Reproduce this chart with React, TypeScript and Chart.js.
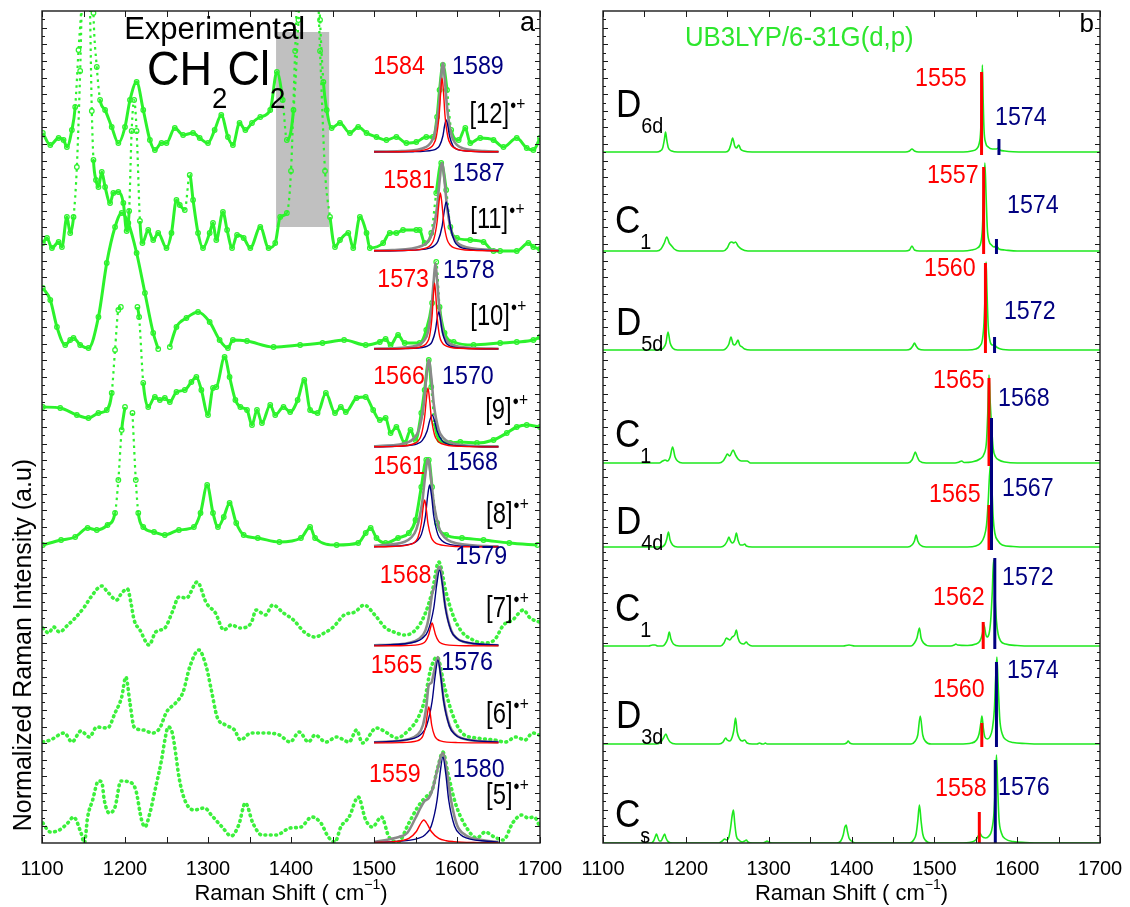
import React, { useEffect, useRef } from 'react';
import { Chart, registerables } from 'chart.js';

Chart.register(...registerables);

const FONT = '"Liberation Sans", Arial, Helvetica, sans-serif';
const RED = '#ff0000';
const NAVY = '#000080';
const EXP_GREEN = '#2cf22c';
const CALC_GREEN = '#1ee81e';
const GRAY = '#8a8a8a';

const X_MIN = 1100;
const X_MAX = 1700;
const Y_MAX = 832;
const X_TICKS = [1100, 1150, 1200, 1250, 1300, 1350, 1400, 1450, 1500, 1550, 1600, 1650, 1700];

type P = [number, number | null];

// ---------------- Panel a : experimental spectra (height above own baseline) ----------------
const EXP_12: P[] = [[1101,19],[1110,7],[1120,14],[1126,12],[1130,5],[1136,22],[1140,45],[1144,102],[1148,160],[1152,300],[1158,300],[1162,139],[1166,85],[1170,52],[1176,42],[1184,25],[1192,9],[1200,25],[1206,52],[1214,70],[1222,42],[1230,12],[1236,2],[1244,9],[1250,9],[1260,24],[1270,17],[1282,19],[1290,14],[1300,9],[1308,22],[1316,37],[1324,15],[1330,7],[1338,29],[1345,22],[1353,29],[1363,35],[1375,42],[1383,80],[1390,52],[1395,12],[1403,42],[1409,132],[1416,300],[1428,300],[1435,132],[1439,70],[1443,42],[1449,24],[1459,29],[1471,19],[1481,25],[1491,19],[1503,15],[1515,12],[1527,15],[1539,9],[1551,10],[1563,15],[1571,15],[1576,35],[1579,62],[1583,87],[1588,62],[1593,22],[1602,12],[1610,24],[1616,9],[1628,14],[1644,12],[1656,5],[1672,14],[1684,4],[1692,2],[1700,14]];
const EXP_11: P[] = [[1101,8],[1106,13],[1112,3],[1120,9],[1124,4],[1130,34],[1134,18],[1138,34],[1142,84],[1146,180],[1150,300],[1156,300],[1160,140],[1162,91],[1165,71],[1168,64],[1172,79],[1176,64],[1182,48],[1186,58],[1192,59],[1198,48],[1202,20],[1205,40],[1208,120],[1211,151],[1214,120],[1218,30],[1221,8],[1228,21],[1234,11],[1240,18],[1250,3],[1256,18],[1262,51],[1266,46],[1272,41],[1278,76],[1282,51],[1288,18],[1294,3],[1302,18],[1306,28],[1310,11],[1318,39],[1323,21],[1329,3],[1335,16],[1343,13],[1351,3],[1363,24],[1373,3],[1381,8],[1387,34],[1395,38],[1400,80],[1405,200],[1412,350],[1428,350],[1435,200],[1441,80],[1447,34],[1453,4],[1459,11],[1469,18],[1475,3],[1483,34],[1491,18],[1495,3],[1511,8],[1519,18],[1527,18],[1535,21],[1551,21],[1555,21],[1561,8],[1569,18],[1575,58],[1581,88],[1587,61],[1592,24],[1600,13],[1616,11],[1632,9],[1644,0],[1652,0],[1672,0],[1686,8],[1692,4],[1700,2]];
const EXP_10: P[] = [[1101,61],[1110,49],[1118,22],[1128,4],[1134,9],[1138,11],[1146,4],[1156,1],[1168,32],[1178,86],[1188,122],[1196,136],[1204,126],[1214,96],[1224,56],[1234,16],[1240,0],[1246,null],[1254,2],[1262,22],[1274,31],[1288,37],[1302,27],[1314,9],[1324,1],[1330,9],[1347,8],[1379,2],[1411,4],[1438,6],[1464,9],[1490,4],[1507,7],[1514,10],[1520,4],[1529,14],[1537,6],[1555,6],[1563,19],[1570,46],[1575,87],[1579,42],[1585,16],[1596,7],[1620,4],[1652,6],[1672,7],[1692,9],[1700,12]];
const EXP_9: P[] = [[1101,40],[1122,39],[1142,32],[1156,29],[1168,34],[1178,37],[1184,54],[1188,97],[1192,137],[1195,140],[1205,null],[1215,140],[1217,130],[1222,64],[1228,40],[1236,50],[1242,47],[1248,49],[1254,45],[1262,55],[1272,57],[1280,65],[1286,70],[1292,57],[1300,32],[1306,59],[1310,60],[1320,90],[1326,70],[1333,47],[1339,40],[1347,37],[1353,22],[1359,37],[1365,24],[1375,42],[1381,32],[1391,40],[1399,35],[1408,47],[1416,67],[1423,37],[1432,34],[1442,54],[1453,34],[1460,40],[1466,35],[1479,49],[1490,50],[1499,37],[1507,27],[1514,29],[1520,14],[1527,20],[1537,4],[1544,17],[1550,7],[1557,34],[1561,57],[1566,87],[1569,60],[1573,24],[1579,7],[1592,4],[1604,5],[1624,4],[1644,7],[1660,14],[1672,20],[1684,22],[1700,20]];
const EXP_8: P[] = [[1101,2],[1123,7],[1140,10],[1155,19],[1166,17],[1179,22],[1188,34],[1192,67],[1196,117],[1200,140],[1204,null],[1209,134],[1213,67],[1216,34],[1222,20],[1235,15],[1248,12],[1265,17],[1283,20],[1291,34],[1299,62],[1306,34],[1312,20],[1319,30],[1326,44],[1334,24],[1343,12],[1360,9],[1386,5],[1412,9],[1423,20],[1429,9],[1455,2],[1481,4],[1490,14],[1496,19],[1503,9],[1514,4],[1529,9],[1542,14],[1550,27],[1557,60],[1563,87],[1566,87],[1570,60],[1576,24],[1587,12],[1606,9],[1632,7],[1663,4],[1697,2]];
const EXP_7: P[] = [[1101,18],[1108,13],[1114,19],[1121,14],[1131,21],[1140,28],[1151,39],[1159,49],[1172,60],[1179,54],[1190,46],[1196,53],[1203,57],[1207,44],[1211,26],[1218,16],[1229,1],[1237,14],[1248,18],[1257,34],[1265,49],[1274,48],[1287,64],[1298,43],[1309,33],[1319,16],[1328,21],[1339,18],[1352,23],[1358,36],[1369,31],[1378,41],[1391,33],[1403,26],[1416,14],[1429,9],[1440,13],[1451,19],[1464,31],[1477,34],[1488,41],[1501,31],[1514,18],[1524,14],[1537,11],[1550,16],[1561,31],[1570,54],[1578,84],[1587,53],[1596,29],[1606,14],[1615,8],[1632,3],[1645,6],[1656,21],[1667,26],[1680,36],[1688,28],[1699,24]];
const EXP_6: P[] = [[1101,1],[1110,3],[1127,10],[1136,1],[1147,12],[1157,6],[1166,16],[1179,15],[1188,30],[1196,46],[1201,66],[1206,40],[1211,16],[1222,13],[1233,10],[1242,15],[1250,31],[1261,40],[1270,51],[1278,76],[1289,93],[1298,76],[1304,53],[1311,26],[1321,18],[1332,13],[1339,3],[1352,10],[1369,10],[1386,8],[1399,1],[1410,11],[1421,1],[1429,8],[1442,1],[1455,6],[1470,1],[1479,13],[1486,0],[1503,15],[1516,10],[1527,5],[1542,13],[1553,25],[1561,43],[1568,73],[1576,86],[1585,56],[1594,30],[1606,10],[1624,5],[1645,3],[1658,1],[1671,6],[1682,3],[1691,10],[1699,8]];
const EXP_5: P[] = [[1101,20],[1110,11],[1121,13],[1131,20],[1138,26],[1147,10],[1151,0],[1155,26],[1161,43],[1168,62],[1172,61],[1175,43],[1181,30],[1188,36],[1195,62],[1205,61],[1213,53],[1220,23],[1224,16],[1230,30],[1237,56],[1244,83],[1248,103],[1252,116],[1257,110],[1261,90],[1265,66],[1272,43],[1283,33],[1296,35],[1304,28],[1317,16],[1328,7],[1337,18],[1345,40],[1354,20],[1365,8],[1382,8],[1399,15],[1412,16],[1425,26],[1436,20],[1445,6],[1453,1],[1460,16],[1470,26],[1481,46],[1490,23],[1498,16],[1509,26],[1518,6],[1529,1],[1542,20],[1552,35],[1561,45],[1570,53],[1577,76],[1583,91],[1589,70],[1598,40],[1611,16],[1624,5],[1634,11],[1645,6],[1656,3],[1667,20],[1678,28],[1686,25],[1693,26],[1699,18]];

const EXP_SPECTRA = [EXP_12, EXP_11, EXP_10, EXP_9, EXP_8, EXP_7, EXP_6, EXP_5];
const EXP_OFFSETS = [691, 592, 494, 396, 296, 197, 100, 0];
// spectra recorded with a sparse point density (drawn as separate dots)
const EXP_SPARSE = [false, false, false, false, false, true, true, true];

// fitted components (red, blue) and their envelope (gray)
const FIT_RED_12: P[] = [[1500,0.1],[1547,0.7],[1568,4.4],[1571.5,7.4],[1575,15],[1578.5,37],[1580.3,59],[1582,74],[1583.8,59],[1585.5,37],[1589,15],[1592.5,7.4],[1596,4.4],[1617,0.7],[1650,0.2]];
const FIT_BLUE_12: P[] = [[1500,0.1],[1547,0.3],[1571,1.9],[1575,3.2],[1579,6.4],[1583,16],[1585,26],[1587,32],[1589,26],[1591,16],[1595,6.4],[1599,3.2],[1603,1.9],[1627,0.3],[1650,0.1]];
const FIT_GRAY_12: P[] = [[1500,0.4],[1533,0.9],[1563,5.2],[1568,8.9],[1573,18],[1578,45],[1580.5,71],[1583,89],[1585.5,71],[1588,45],[1593,18],[1598,8.9],[1603,5.2],[1633,0.9],[1650,0.5]];
const FIT_RED_11: P[] = [[1500,0.2],[1540,0.6],[1564,3.4],[1568,5.8],[1572,11.6],[1576,29],[1578,46],[1580,58],[1582,46],[1584,29],[1588,11.6],[1592,5.8],[1596,3.4],[1620,0.6],[1650,0.2]];
const FIT_BLUE_11: P[] = [[1500,0.2],[1537,0.5],[1567,2.9],[1572,4.9],[1577,9.8],[1582,24.5],[1584.5,39],[1587,49],[1589.5,39],[1592,24.5],[1597,9.8],[1602,4.9],[1607,2.9],[1637,0.5],[1650,0.3]];
const FIT_GRAY_11: P[] = [[1500,0.5],[1522,0.9],[1558,5.2],[1564,8.8],[1570,17.6],[1576,44],[1579,70],[1582,88],[1585,70],[1588,44],[1594,17.6],[1600,8.8],[1606,5.2],[1642,0.9],[1650,0.7]];
const FIT_RED_10: P[] = [[1500,0.1],[1543,0.7],[1561,3.9],[1564,6.6],[1567,13],[1570,33],[1571.5,53],[1573,66],[1574.5,53],[1576,33],[1579,13],[1582,6.6],[1585,3.9],[1603,0.7],[1650,0.1]];
const FIT_BLUE_10: P[] = [[1500,0.1],[1538,0.4],[1562,2.2],[1566,3.7],[1570,7.4],[1574,18.5],[1576,30],[1578,37],[1580,30],[1582,18.5],[1586,7.4],[1590,3.7],[1594,2.2],[1618,0.4],[1650,0.1]];
const FIT_GRAY_10: P[] = [[1500,0.3],[1529,0.9],[1556,5],[1560.5,8.6],[1565,17],[1569.5,43],[1572,69],[1574,86],[1576,69],[1578.5,43],[1583,17],[1587.5,8.6],[1592,5],[1619,0.9],[1650,0.3]];
const FIT_RED_9: P[] = [[1500,0.2],[1525,0.6],[1549,3.5],[1553,5.9],[1557,12],[1561,30],[1563,47],[1565,59],[1567,47],[1569,30],[1573,12],[1577,5.9],[1581,3.5],[1605,0.6],[1650,0.1]];
const FIT_BLUE_9: P[] = [[1500,0.2],[1510,0.3],[1546,1.9],[1552,3.2],[1558,6.4],[1564,16],[1567,26],[1570,32],[1573,26],[1576,16],[1582,6.4],[1588,3.2],[1594,1.9],[1630,0.3],[1650,0.2]];
const FIT_GRAY_9: P[] = [[1500,0.7],[1506,0.9],[1542,5.1],[1548,8.7],[1554,17],[1560,43],[1563,70],[1566,87],[1569,70],[1572,43],[1578,17],[1584,8.7],[1590,5.1],[1626,0.9],[1650,0.6]];
const FIT_RED_8: P[] = [[1500,0.2],[1521,0.5],[1545,2.8],[1549,4.7],[1553,9.4],[1557,23.5],[1559,38],[1561,47],[1563,38],[1565,23.5],[1569,9.4],[1573,4.7],[1577,2.8],[1601,0.5],[1650,0.1]];
const FIT_BLUE_8: P[] = [[1500,0.3],[1517,0.6],[1547,3.7],[1552,6.2],[1557,12.4],[1562,31],[1564.5,50],[1567,62],[1569.5,50],[1572,31],[1577,12.4],[1582,6.2],[1587,3.7],[1617,0.6],[1650,0.3]];
const FIT_GRAY_8: P[] = [[1500,1],[1537,5.2],[1544,8.8],[1551,17.6],[1558,44],[1561.5,70],[1565,88],[1568.5,70],[1572,44],[1579,17.6],[1586,8.8],[1593,5.2],[1635,0.9],[1650,0.6]];
const FIT_RED_7: P[] = [[1500,0.1],[1530,0.2],[1554,1.4],[1558,2.3],[1562,4.6],[1566,11.5],[1568,18],[1570,23],[1572,18],[1574,11.5],[1578,4.6],[1582,2.3],[1586,1.4],[1610,0.2],[1650,0.1]];
const FIT_BLUE_7: P[] = [[1500,0.6],[1509,0.8],[1551,4.5],[1558,7.6],[1565,15],[1572,38],[1575.5,61],[1579,76],[1582.5,61],[1586,38],[1593,15],[1600,7.6],[1607,4.5],[1650,0.8]];
const FIT_GRAY_7: P[] = [[1500,0.7],[1520,1.2],[1540,2.8],[1554,7],[1562,15.6],[1566,28.5],[1570,52],[1574,62],[1578,79],[1580,79],[1582,66],[1586,39.4],[1593,15.6],[1600,7.6],[1607,4.5],[1625,1.8],[1650,0.8]];
const FIT_RED_6: P[] = [[1500,0.1],[1531,0.4],[1552,2.1],[1555.5,3.6],[1559,7.2],[1562.5,18],[1564.3,29],[1566,36],[1567.8,29],[1569.5,18],[1573,7.2],[1576.5,3.6],[1580,2.1],[1601,0.4],[1650,0.1]];
const FIT_BLUE_6: P[] = [[1500,0.7],[1549,4.9],[1556,8.3],[1563,16.6],[1570,41.5],[1573.5,66],[1577,83],[1580.5,66],[1584,41.5],[1591,16.6],[1598,8.3],[1605,4.9],[1650,0.8]];
const FIT_GRAY_6: P[] = [[1500,0.8],[1520,1.5],[1540,3.5],[1552,8],[1559,18],[1563,36],[1566,58],[1569,60],[1573,74],[1577,86],[1580.5,68],[1584,43],[1591,17.5],[1598,8.6],[1605,5],[1625,2],[1650,0.9]];
const FIT_RED_5: P[] = [[1500,0.5],[1524,1.4],[1533,2.3],[1542,4.6],[1551,11.5],[1555.5,18.4],[1560,23],[1564.5,18.4],[1569,11.5],[1578,4.6],[1587,2.3],[1596,1.4],[1620,0.5],[1650,0.2]];
const FIT_BLUE_5: P[] = [[1500,0.6],[1513,0.9],[1555,5.1],[1562,8.6],[1569,17],[1576,43],[1579.5,69],[1583,86],[1586.5,69],[1590,43],[1597,17],[1604,8.6],[1611,5.1],[1650,0.9]];
const FIT_GRAY_5: P[] = [[1500,1],[1520,4],[1530,6],[1540,10],[1550,25],[1556,35],[1561,42],[1566,45],[1571,55],[1576,72],[1583,90],[1588,70],[1593,42],[1600,18],[1610,8],[1630,3],[1650,1]];

const FIT_RED = [FIT_RED_12, FIT_RED_11, FIT_RED_10, FIT_RED_9, FIT_RED_8, FIT_RED_7, FIT_RED_6, FIT_RED_5];
const FIT_BLUE = [FIT_BLUE_12, FIT_BLUE_11, FIT_BLUE_10, FIT_BLUE_9, FIT_BLUE_8, FIT_BLUE_7, FIT_BLUE_6, FIT_BLUE_5];
const FIT_GRAY = [FIT_GRAY_12, FIT_GRAY_11, FIT_GRAY_10, FIT_GRAY_9, FIT_GRAY_8, FIT_GRAY_7, FIT_GRAY_6, FIT_GRAY_5];

// ---------------- Panel b : calculated spectra ----------------
const CALC_D6D: P[] = [[1100,0],[1165,0],[1169,1],[1172,4],[1174,12],[1175.5,20],[1177,12],[1179,4],[1183,1],[1190,0],[1248,0],[1252,2],[1254.5,8],[1256.5,14],[1259,6],[1261,4],[1264,7],[1266,3],[1270,1],[1280,0],[1465,0],[1470,1],[1473,3],[1476,1],[1481,0],[1535,0],[1545,1],[1551,3],[1554,8],[1556,22],[1557,50],[1558,87],[1559,50],[1560,22],[1562,9],[1565,5],[1570,3],[1575,3],[1577,4],[1579,2],[1585,1],[1595,0.3],[1610,0],[1700,0]];
const CALC_C1_A: P[] = [[1100,0],[1165,0],[1170,2],[1174,8],[1177,14],[1180,8],[1183,5],[1186,2],[1192,0],[1245,0],[1250,3],[1253,8],[1255.5,9],[1258,8],[1260,9],[1263,5],[1267,2],[1275,0],[1465,0],[1470,1],[1473,5],[1476,1],[1482,0],[1535,0],[1545,1],[1552,3],[1556,8],[1558,22],[1559.5,55],[1561,88],[1562.5,55],[1564,22],[1566,10],[1569,6],[1572,4],[1575,5],[1578,2],[1585,1],[1600,0],[1700,0]];
const CALC_D5D: P[] = [[1100,0],[1168,0],[1173,2],[1176,7],[1178.5,18],[1181,7],[1184,2],[1190,0],[1245,0],[1249,2],[1252,6],[1254.5,13],[1257,6],[1259,5],[1261,7],[1263,10],[1265,5],[1268,3],[1271,1],[1278,0],[1466,0],[1471,1],[1474,4],[1476,7],[1478,4],[1481,1],[1488,0],[1540,0],[1550,1],[1555,4],[1558,10],[1560,28],[1561.5,60],[1562.5,88],[1563.5,60],[1565,25],[1567,10],[1570,5],[1572.5,5],[1575,3],[1580,1],[1595,0],[1700,0]];
const CALC_C1_B: P[] = [[1100,0],[1168,0],[1172,2],[1175,3],[1178,2],[1181,6],[1184,16],[1187,6],[1190,2],[1196,0],[1240,0],[1245,2],[1248,6],[1250,9],[1253,7],[1257,13],[1260,8],[1263,4],[1267,2],[1274,2],[1278,0],[1468,0],[1473,3],[1475,7],[1477,11],[1479,7],[1482,2],[1490,0],[1525,0],[1530,1],[1533,2],[1536,0.5],[1545,1],[1555,4],[1560,9],[1563,22],[1564.5,50],[1566,88],[1567.5,60],[1569,38],[1571,15],[1574,6],[1578,3],[1585,1],[1600,0],[1700,0]];
const CALC_D4D: P[] = [[1100,0],[1170,0],[1175,3],[1177,8],[1179,15],[1181,7],[1184,2],[1190,0],[1242,0],[1247,2],[1250,6],[1252,10],[1254,6],[1256,4],[1259,7],[1261,14],[1263,7],[1266,2],[1269,2],[1271,3],[1273,1],[1280,0],[1468,0],[1473,2],[1476,6],[1478,12],[1480,6],[1483,2],[1490,0],[1540,0],[1550,1],[1556,4],[1560,10],[1563,22],[1565,45],[1566.5,70],[1568,84],[1569.5,60],[1571,30],[1573,14],[1577,6],[1582,2],[1595,0.5],[1610,0],[1700,0]];
const CALC_C1_C: P[] = [[1100,0],[1155,0],[1160,1],[1163,1],[1166,0],[1172,0],[1175,2],[1178,7],[1180,14],[1182,7],[1185,2],[1192,0],[1242,0],[1246,3],[1249,8],[1251,7],[1253,6],[1256,9],[1259,11],[1261,16],[1263,8],[1266,3],[1270,2],[1273,4],[1275,2],[1280,0],[1390,0],[1397,1],[1404,0],[1472,0],[1476,3],[1479,8],[1482,18],[1484,8],[1487,3],[1495,0],[1520,0],[1524,1],[1526,2],[1528,1],[1540,0.5],[1550,2],[1555,5],[1558,12],[1560,21],[1562,12],[1563.5,9],[1566,12],[1568,25],[1570,55],[1571.5,86],[1573,55],[1575,25],[1577,12],[1580,5],[1586,2],[1600,0.5],[1620,0],[1700,0]];
const CALC_D3D: P[] = [[1100,0],[1165,0],[1170,2],[1173,6],[1176,10],[1178,6],[1181,2],[1188,0],[1240,0],[1245,2],[1248,6],[1250,4],[1253,3],[1256,7],[1258,14],[1260,26],[1262,12],[1265,5],[1268,3],[1271,4],[1274,1],[1280,0],[1286,0],[1289,1],[1292,0],[1294,0],[1296,1],[1298,0],[1390,0],[1394,1],[1396,3],[1398,1],[1402,0],[1472,0],[1477,3],[1480,9],[1483,28],[1486,9],[1489,3],[1496,0],[1530,0],[1545,1],[1551,4],[1554,10],[1556,20],[1557.5,28],[1559,17],[1561,7],[1564,5],[1567,7],[1570,15],[1572.5,35],[1574,65],[1575.5,87],[1577,60],[1579,25],[1582,10],[1587,4],[1595,1.5],[1610,0.5],[1630,0],[1700,0]];
const CALC_CS: P[] = [[1100,0],[1158,0],[1161,2],[1163,6],[1164.5,9],[1166,6],[1168,2],[1170,2],[1172,5],[1174.5,9],[1176,5],[1179,1],[1184,0],[1240,0],[1244,2],[1247,4],[1249,3],[1252,6],[1254,15],[1256,28],[1257.5,33],[1259,20],[1261,7],[1264,3],[1268,1],[1271,2],[1273,3],[1275,1],[1280,0],[1293,0],[1296,1],[1298,2],[1300,1],[1304,0],[1382,0],[1387,2],[1390,8],[1392,16],[1393.5,18],[1395,12],[1397,5],[1400,2],[1405,0],[1470,0],[1475,3],[1478,9],[1480,22],[1482,38],[1484,22],[1486,9],[1489,3],[1496,0],[1530,0],[1545,1],[1550,3],[1553,7],[1555,10],[1557,7],[1562,5],[1566,7],[1569,12],[1572,30],[1573.5,55],[1575,88],[1576.5,55],[1578,25],[1581,10],[1586,4],[1595,1.5],[1610,0.5],[1630,0],[1700,0]];

const CALC_SPECTRA = [CALC_D6D, CALC_C1_A, CALC_D5D, CALC_C1_B, CALC_D4D, CALC_C1_C, CALC_D3D, CALC_CS];
const CALC_OFFSETS = [691, 592, 493, 380, 296, 197, 99, 0];
// [position, height] of the red and blue sticks of each calculated structure
const STICK_RED: [number, number][] = [[1557, 80], [1559.5, 84], [1561.7, 87], [1566, 85], [1566, 42], [1559, 24], [1557.3, 21], [1554.3, 31]];
const STICK_BLUE: [number, number][] = [[1578, 13], [1575, 12], [1572.7, 13], [1569, 45], [1569, 82], [1573, 88], [1575, 82], [1573.6, 83]];

// ---------------- text ----------------
type Run = { t: string; s: number; dy?: number; dx?: number };
type Label = { x: number; y: number; c: string; runs: Run[]; sx?: number; align?: 'left' | 'center' };

const num = (x: number, y: number, c: string, t: string): Label => ({ x, y, c, runs: [{ t, s: 25 }], sx: 0.93 });
const ion = (x: number, y: number, t: string): Label => ({ x, y, c: '#000', runs: [{ t, s: 29, dx: 1 }, { t: '\u25CF', s: 13, dy: -10, dx: 0 }, { t: '+', s: 19, dy: -10 }], sx: 0.82 });
const sym = (x: number, y: number, m: string, sub: string): Label => ({ x, y, c: '#000', runs: [{ t: m, s: 39 }, { t: sub, s: 22, dy: 21 }], sx: 0.9 });

const LEFT_TEXT: Label[] = [
  { x: 1685, y: 819, c: '#000', runs: [{ t: 'a', s: 27 }], align: 'center' },
  { x: 1199, y: 813, c: '#000', runs: [{ t: 'Experimental', s: 31 }] },
  { x: 1226.5, y: 772, c: '#000', runs: [{ t: 'CH', s: 49 }, { t: '2', s: 30, dy: 29 }, { t: 'Cl', s: 49 }, { t: '2', s: 30, dy: 29 }], sx: 0.92 },
  num(1499, 776, RED, '1584'), num(1594, 776, NAVY, '1589'), ion(1615, 728, '[12]'),
  num(1511, 662, RED, '1581'), num(1595, 669, NAVY, '1587'), ion(1616, 623, '[11]'),
  num(1504, 563, RED, '1573'), num(1583, 572, NAVY, '1578'), ion(1616, 526, '[10]'),
  num(1499, 466, RED, '1566'), num(1582, 466, NAVY, '1570'), ion(1634, 432, '[9]'),
  num(1499, 376, RED, '1561'), num(1587, 380, NAVY, '1568'), ion(1635, 328, '[8]'),
  num(1507, 267, RED, '1568'), num(1598, 286, NAVY, '1579'), ion(1635, 234, '[7]'),
  num(1496, 177, RED, '1565'), num(1581, 180, NAVY, '1576'), ion(1635, 128, '[6]'),
  num(1494, 68, RED, '1559'), num(1595, 73, NAVY, '1580'), ion(1635, 47, '[5]'),
];

const RIGHT_TEXT: Label[] = [
  { x: 1684, y: 818, c: '#000', runs: [{ t: 'b', s: 26 }], align: 'center' },
  { x: 1199, y: 805, c: '#2ee62e', runs: [{ t: 'UB3LYP/6-31G(d,p)', s: 28 }], sx: 0.92 },
  sym(1115.7, 737, 'D', '6d'), num(1476.7, 764, RED, '1555'), num(1573.2, 725, NAVY, '1574'),
  sym(1114.5, 621, 'C', '1'), num(1491, 667, RED, '1557'), num(1587.7, 637, NAVY, '1574'),
  sym(1115.7, 519, 'D', '5d'), num(1487.5, 574, RED, '1560'), num(1584, 531, NAVY, '1572'),
  sym(1114.5, 407, 'C', '1'), num(1498.4, 462, RED, '1565'), num(1576.8, 444, NAVY, '1568'),
  sym(1115.7, 320, 'D', '4d'), num(1493.5, 348, RED, '1565'), num(1581.7, 354, NAVY, '1567'),
  sym(1114.5, 233, 'C', '1'), num(1498.4, 245, RED, '1562'), num(1581.7, 265, NAVY, '1572'),
  sym(1115.7, 126, 'D', '3d'), num(1498.4, 153, RED, '1560'), num(1587.7, 172, NAVY, '1574'),
  sym(1114.5, 27, 'C', 's'), num(1500.8, 54, RED, '1558'), num(1576.8, 55, NAVY, '1576'),
];

const SOLVENT_BAND = { x0: 1382, x1: 1446, y0: 616, y1: 811 };

const X_TITLE: Run[] = [{ t: 'Raman Shift ( cm', s: 22 }, { t: '\u22121', s: 14, dy: -9 }, { t: ')', s: 22 }];
const Y_TITLE: Run[] = [{ t: 'Normalized Raman Intensity (a.u)', s: 25 }];

// ---------------- drawing helpers ----------------
function drawRuns(ctx: CanvasRenderingContext2D, x: number, y: number, runs: Run[], color: string, sx = 1, align: 'left' | 'center' = 'left') {
  ctx.save();
  ctx.fillStyle = color;
  ctx.textBaseline = 'middle';
  ctx.textAlign = 'left';
  let total = 0;
  for (const r of runs) {
    ctx.font = `${r.s}px ${FONT}`;
    total += ctx.measureText(r.t).width + (r.dx || 0);
  }
  ctx.translate(x, y);
  ctx.scale(sx, 1);
  let cx = align === 'center' ? -total / 2 : 0;
  for (const r of runs) {
    ctx.font = `${r.s}px ${FONT}`;
    ctx.fillText(r.t, cx, r.dy || 0);
    cx += ctx.measureText(r.t).width + (r.dx || 0);
  }
  ctx.restore();
}

function framePlugin(labels: Label[], band: typeof SOLVENT_BAND | null, yTitle: boolean) {
  return {
    id: 'frameAndText',
    beforeDatasetsDraw(chart: any) {
      if (!band) return;
      const { ctx, scales } = chart;
      const x0 = scales.x.getPixelForValue(band.x0);
      const x1 = scales.x.getPixelForValue(band.x1);
      const y0 = scales.y.getPixelForValue(band.y1);
      const y1 = scales.y.getPixelForValue(band.y0);
      ctx.save();
      ctx.fillStyle = '#c0c0c0';
      ctx.fillRect(x0, y0, x1 - x0, y1 - y0);
      ctx.restore();
    },
    afterDatasetsDraw(chart: any) {
      const { ctx, chartArea: a, scales } = chart;
      ctx.save();
      ctx.strokeStyle = '#1a1a1a';
      ctx.lineWidth = 1.4;
      ctx.strokeRect(a.left, a.top, a.right - a.left, a.bottom - a.top);
      ctx.lineWidth = 1;
      ctx.beginPath();
      for (const v of X_TICKS) {
        const px = Math.round(scales.x.getPixelForValue(v)) + 0.5;
        ctx.moveTo(px, a.bottom); ctx.lineTo(px, a.bottom - 6);
        ctx.moveTo(px, a.top); ctx.lineTo(px, a.top + 6);
      }
      const n = 100;
      for (let k = 1; k < n; k++) {
        const py = Math.round(a.bottom - (k * (a.bottom - a.top)) / n) + 0.5;
        const len = k % 2 === 0 ? 5 : 3;
        ctx.moveTo(a.left, py); ctx.lineTo(a.left + len, py);
        ctx.moveTo(a.right, py); ctx.lineTo(a.right - len, py);
      }
      ctx.stroke();
      ctx.restore();

      for (const L of labels) {
        const x = scales.x.getPixelForValue(L.x);
        const y = scales.y.getPixelForValue(L.y);
        drawRuns(ctx, x, y, L.runs, L.c, L.sx || 1, L.align || 'left');
      }
      drawRuns(ctx, (a.left + a.right) / 2, a.bottom + 51, X_TITLE, '#000', 1, 'center');
      if (yTitle) {
        ctx.save();
        ctx.translate(24, 645);
        ctx.rotate(-Math.PI / 2);
        drawRuns(ctx, 0, 0, Y_TITLE, '#000', 1, 'center');
        ctx.restore();
      }
    },
  };
}

const pts = (arr: P[], off: number) => arr.map(([x, y]) => ({ x, y: y === null ? null : y + off }));

// steep (saturated) stretches of the measured spectra appear as sparse dots
const isSteep = (c: any) => {
  const dx = Math.abs(c.p1.x - c.p0.x);
  const dy = Math.abs(c.p1.y - c.p0.y);
  return dy > 30 && dy > 7 * dx;
};

function baseOptions(padLeft: number, padRight: number) {
  return {
    animation: false,
    responsive: false,
    devicePixelRatio: 1,
    events: [],
    layout: { padding: { left: padLeft, right: padRight, top: 11, bottom: 0 } },
    plugins: { legend: { display: false }, tooltip: { enabled: false }, title: { display: false } },
    scales: {
      x: {
        type: 'linear',
        min: X_MIN,
        max: X_MAX,
        position: 'bottom',
        afterFit: (s: any) => { s.height = 64; s.paddingLeft = 0; s.paddingRight = 0; },
        grid: { display: false, drawTicks: false },
        border: { display: false },
        ticks: {
          stepSize: 50,
          autoSkip: false,
          maxRotation: 0,
          minRotation: 0,
          padding: 14,
          color: '#000',
          font: { family: FONT, size: 20 },
          callback: (v: any) => (Number(v) % 100 === 0 ? String(v) : ''),
        },
      },
      y: { type: 'linear', min: 0, max: Y_MAX, display: false },
    },
  };
}

function leftConfig(): any {
  const datasets: any[] = [];
  EXP_SPECTRA.forEach((s, i) => {
    const off = EXP_OFFSETS[i];
    if (EXP_SPARSE[i]) {
      datasets.push({
        data: pts(s, off), borderColor: '#3cf03c', borderWidth: 3.6, borderDash: [0.8, 4.6], borderCapStyle: 'round',
        pointRadius: 0, cubicInterpolationMode: 'monotone', spanGaps: false, order: 3,
      });
    } else {
      datasets.push({
        data: pts(s, off), borderColor: EXP_GREEN, borderWidth: 3, pointRadius: 2.3, pointBorderWidth: 1.2,
        pointBorderColor: EXP_GREEN, pointBackgroundColor: 'rgba(0,0,0,0)', cubicInterpolationMode: 'monotone',
        spanGaps: false, order: 3,
        segment: {
          borderDash: (c: any) => (isSteep(c) ? [2.5, 4] : undefined),
          borderWidth: (c: any) => (isSteep(c) ? 2.2 : undefined),
        },
      });
    }
    datasets.push({ data: pts(FIT_GRAY[i], off), borderColor: GRAY, borderWidth: 2.6, pointRadius: 0, cubicInterpolationMode: 'monotone', order: 2 });
    datasets.push({ data: pts(FIT_RED[i], off), borderColor: RED, borderWidth: 1.4, pointRadius: 0, cubicInterpolationMode: 'monotone', order: 1 });
    datasets.push({ data: pts(FIT_BLUE[i], off), borderColor: NAVY, borderWidth: 1.4, pointRadius: 0, cubicInterpolationMode: 'monotone', order: 1 });
  });
  return {
    type: 'line',
    data: { datasets },
    options: baseOptions(42, 25),
    plugins: [framePlugin(LEFT_TEXT, SOLVENT_BAND, true)],
  };
}

function rightConfig(): any {
  const datasets: any[] = [];
  CALC_SPECTRA.forEach((s, i) => {
    const off = CALC_OFFSETS[i];
    datasets.push({ data: pts(s, off), borderColor: CALC_GREEN, borderWidth: 1.6, pointRadius: 0, cubicInterpolationMode: 'monotone', order: 2 });
    const [rx, rh] = STICK_RED[i];
    datasets.push({ data: [{ x: rx, y: off - 3 }, { x: rx, y: off + rh }], borderColor: RED, borderWidth: 3, pointRadius: 0, tension: 0, order: 1 });
    const [bx, bh] = STICK_BLUE[i];
    datasets.push({ data: [{ x: bx, y: off - 3 }, { x: bx, y: off + bh }], borderColor: NAVY, borderWidth: 3, pointRadius: 0, tension: 0, order: 0 });
  });
  return {
    type: 'line',
    data: { datasets },
    options: baseOptions(38, 30),
    plugins: [framePlugin(RIGHT_TEXT, null, false)],
  };
}

export default function App() {
  const leftRef = useRef<HTMLCanvasElement>(null);
  const rightRef = useRef<HTMLCanvasElement>(null);
  useEffect(() => {
    const c1 = new Chart(leftRef.current as HTMLCanvasElement, leftConfig());
    const c2 = new Chart(rightRef.current as HTMLCanvasElement, rightConfig());
    return () => {
      c1.destroy();
      c2.destroy();
    };
  }, []);
  return (
    <div style={{ position: 'absolute', left: 0, top: 0, width: 1130, height: 907, background: '#ffffff' }}>
      <canvas ref={leftRef} width={565} height={907} style={{ position: 'absolute', left: 0, top: 0, width: 565, height: 907 }} />
      <canvas ref={rightRef} width={565} height={907} style={{ position: 'absolute', left: 565, top: 0, width: 565, height: 907 }} />
    </div>
  );
}
